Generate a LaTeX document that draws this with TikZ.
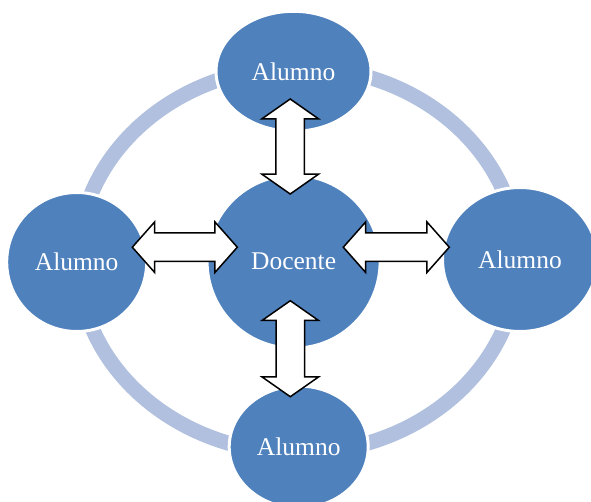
\documentclass[tikz,border=0pt]{standalone}
\usepackage{fontspec}
\setmainfont{Liberation Serif}
\usetikzlibrary{shapes.geometric,shapes.arrows}
\definecolor{nodeblue}{RGB}{79,129,189}
\definecolor{ringblue}{RGB}{176,192,222}
\begin{document}
\begin{tikzpicture}[
    x=1pt, y=-1pt,
    person/.style={ellipse, fill=nodeblue, draw=white, line width=3pt, inner sep=0pt,
        text=white, font=\fontsize{25.5}{30}\selectfont},
    ring/.style={draw=ringblue, line width=15pt},
    link/.style={double arrow, draw=black, fill=white, line width=1.5pt, inner xsep=0pt,
        inner ysep=13.5pt, minimum width=55, double arrow head extend=14,
        double arrow tip angle=110},
    hlink/.style={link, minimum width=49, double arrow head extend=11,
        double arrow tip angle=97}
]
\useasboundingbox (0,0) rectangle (591,501);
\draw[ring] (298,260) ellipse [x radius=220, y radius=193];

\node[person, minimum width=173, minimum height=173] (doc) at (293.6,261.7) {Docente};
\node[person, minimum width=155, minimum height=120] (top) at (293.5,71.3) {Alumno};
\node[person, minimum width=140, minimum height=139] (left) at (76.7,262) {Alumno};
\node[person, minimum width=155, minimum height=144] (right) at (520,259.5) {Alumno};
\node[person, minimum width=139, minimum height=122] (bottom) at (298.7,447) {Alumno};

\node[link, minimum height=95, rotate=90] (a1) at (290.2,146.5) {};
\node[link, minimum height=96, rotate=90] (a2) at (290.3,348.7) {};
\node[hlink, minimum height=105] (a3) at (184.8,247.2) {};
\node[hlink, minimum height=106] (a4) at (396.3,247.2) {};
\end{tikzpicture}
\end{document}
